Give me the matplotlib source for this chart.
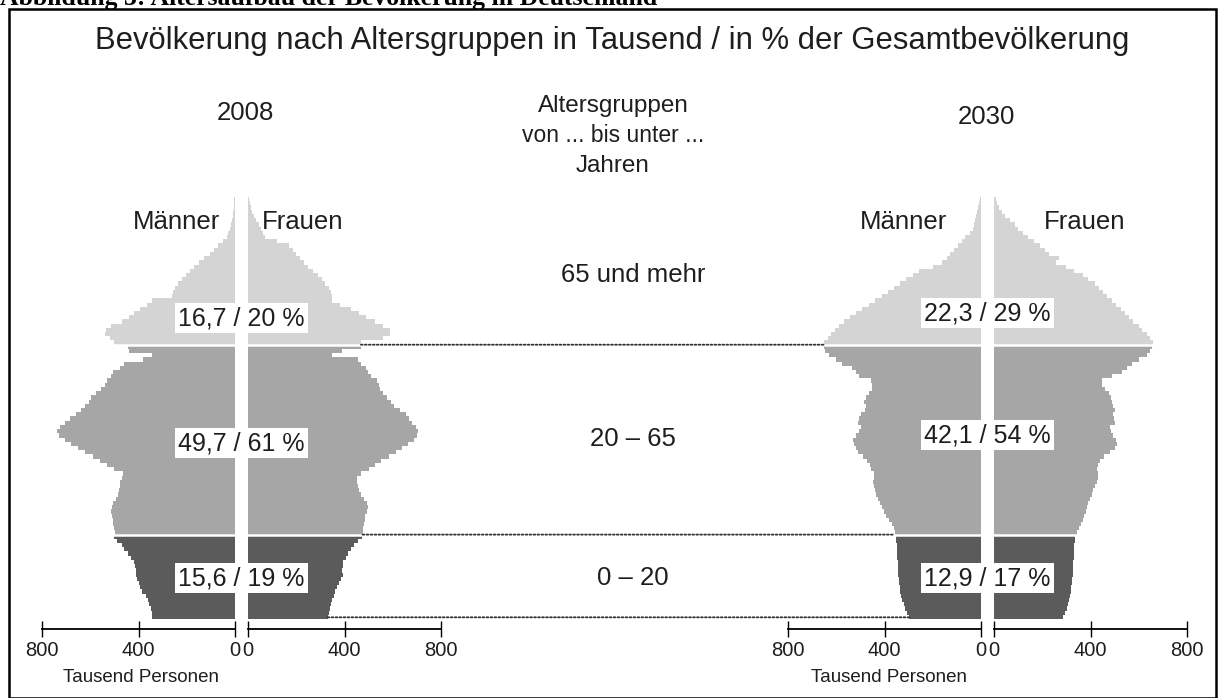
import numpy as np
import matplotlib.pyplot as plt
from matplotlib.patches import ConnectionPatch, Rectangle
from matplotlib.transforms import blended_transform_factory

plt.rcParams['font.family'] = ['Liberation Sans', 'DejaVu Sans']

# Data: thousands of persons per single year of age (0..99)
ages = np.arange(100)

men_2008 = [345, 345, 350, 355, 360, 370, 385, 395, 400, 405,
            410, 412, 415, 420, 430, 445, 460, 470, 490, 500,
            497, 500, 505, 505, 510, 512, 510, 505, 495, 485,
            480, 478, 475, 470, 465, 500, 530, 560, 590, 620,
            650, 680, 705, 730, 738, 725, 705, 685, 660, 640,
            620, 605, 595, 575, 555, 540, 530, 515, 505, 475,
            460, 380, 345, 440, 445, 500, 520, 540, 535, 515,
            470, 440, 420, 395, 365, 345, 260, 255, 250, 235,
            220, 205, 185, 170, 150, 130, 105, 85, 70, 50,
            35, 28, 20, 15, 12, 10, 8, 6, 4, 3]

women_2008 = [330, 334, 340, 344, 350, 355, 362, 368, 378, 385,
              392, 390, 392, 395, 405, 415, 425, 440, 458, 472,
              475, 478, 480, 485, 487, 492, 498, 495, 480, 470,
              462, 458, 452, 450, 470, 500, 525, 550, 585, 615,
              640, 665, 690, 702, 705, 695, 680, 668, 655, 630,
              605, 592, 578, 560, 548, 542, 535, 510, 498, 490,
              470, 458, 350, 390, 470, 468, 560, 589, 590, 560,
              527, 490, 460, 425, 380, 350, 348, 345, 335, 318,
              305, 290, 268, 250, 232, 215, 200, 185, 170, 120,
              70, 62, 55, 45, 32, 24, 18, 13, 9, 6]

men_2030 = [297, 305, 315, 320, 328, 332, 335, 337, 339, 340,
            342, 344, 345, 346, 347, 348, 349, 350, 352, 354,
            358, 362, 370, 380, 392, 402, 412, 420, 428, 435,
            440, 445, 449, 443, 442, 455, 462, 472, 490, 508,
            518, 528, 532, 520, 505, 497, 510, 505, 497, 480,
            478, 485, 478, 465, 450, 452, 458, 505, 520, 535,
            575, 600, 630, 645, 652, 650, 635, 622, 605, 590,
            567, 545, 520, 495, 465, 440, 410, 385, 362, 335,
            310, 283, 255, 200, 160, 140, 128, 112, 97, 80,
            65, 45, 35, 28, 24, 20, 16, 12, 8, 5]

women_2030 = [287, 295, 302, 308, 312, 315, 318, 320, 322, 324,
              326, 327, 328, 329, 330, 331, 332, 333, 335, 337,
              345, 352, 360, 367, 375, 382, 386, 391, 398, 405,
              412, 420, 426, 430, 432, 426, 430, 440, 458, 480,
              502, 508, 505, 495, 485, 481, 500, 496, 495, 502,
              495, 488, 483, 475, 460, 448, 446, 490, 530, 550,
              570, 600, 633, 648, 656, 661, 645, 633, 615, 600,
              578, 560, 545, 525, 505, 490, 470, 450, 435, 420,
              390, 370, 330, 300, 255, 270, 230, 211, 190, 165,
              140, 120, 100, 85, 65, 45, 35, 22, 14, 8]

group_bounds = [0, 20, 65, 100]
group_colors = ['#5b5b5b', '#a6a6a6', '#d4d4d4']
group_names = ['0 – 20', '20 – 65', '65 und mehr']
labels_2008 = ['15,6 / 19 %', '49,7 / 61 %', '16,7 / 20 %']
labels_2030 = ['12,9 / 17 %', '42,1 / 54 %', '22,3 / 29 %']

W, H = 1219, 698
fig = plt.figure(figsize=(W / 100, H / 100), dpi=100)
txt = '#1e1e1e'


def make_axes(x0, x1, men):
    ax = fig.add_axes([x0 / W, (H - 619) / H, (x1 - x0) / W, 422 / H])
    ax.set_ylim(0, 100)
    ax.set_xlim((800, 0) if men else (0, 800))
    for s in ['top', 'left', 'right']:
        ax.spines[s].set_visible(False)
    ax.spines['bottom'].set_position(('outward', 7))
    ax.spines['bottom'].set_linewidth(1.3)
    ax.set_yticks([])
    ax.set_xticks([0, 400, 800])
    ax.tick_params(axis='x', direction='inout', length=11, width=1.0,
                   pad=3, labelsize=14.5, labelcolor=txt)
    ax.patch.set_alpha(0)
    return ax


def draw(ax, vals):
    vals = np.asarray(vals)
    colors = []
    for a in ages:
        g = np.searchsorted(group_bounds, a, side='right') - 1
        colors.append(group_colors[g])
    ax.barh(ages, vals, height=1.0, align='edge', color=colors, linewidth=0)
    for b in group_bounds[1:3]:
        ax.axhline(b, color='white', lw=1.8)


ax_m08 = make_axes(42, 235, True)
ax_w08 = make_axes(248, 441, False)
ax_m30 = make_axes(788, 981, True)
ax_w30 = make_axes(994, 1187, False)

draw(ax_m08, men_2008)
draw(ax_w08, women_2008)
draw(ax_m30, men_2030)
draw(ax_w30, women_2030)

# dotted connectors at the group borders
for b, i in [(65, 65), (20, 20), (0.4, 0)]:
    con = ConnectionPatch(xyA=(women_2008[i], b), coordsA=ax_w08.transData,
                          xyB=(men_2030[i], b), coordsB=ax_m30.transData,
                          linestyle=(0, (1, 1.2)), lw=1.3, color='#333333')
    fig.add_artist(con)

# share labels with white boxes
for ax, cx, labs, ys in [(ax_m08, 241.5, labels_2008, [9.7, 41.7, 71.3]),
                         (ax_m30, 987.5, labels_2030, [9.7, 43.6, 72.5])]:
    tr = blended_transform_factory(fig.transFigure, ax.transData)
    for lab, y in zip(labs, ys):
        fig.text(cx / W, y, lab, transform=tr, ha='center', va='center',
                 fontsize=18, color=txt, zorder=5,
                 bbox=dict(facecolor='white', edgecolor='none',
                           boxstyle='square,pad=0.12'))

# group names in the middle
tr_mid = blended_transform_factory(fig.transFigure, ax_m08.transData)
for name, y in zip(group_names, [9.6, 42.6, 81.5]):
    fig.text(633 / W, y, name, transform=tr_mid, ha='center', va='center',
             fontsize=18.5, color=txt)


def ftext(x, y, s, **kw):
    kw.setdefault('fontsize', 18.5)
    kw.setdefault('color', txt)
    fig.text(x / W, 1 - y / H, s, ha='center', va='center', **kw)


ftext(612, 41, 'Bevölkerung nach Altersgruppen in Tausend / in % der Gesamtbevölkerung',
      fontsize=22.3)
ftext(245, 113, '2008')
ftext(986, 117, '2030')
ftext(613, 106, 'Altersgruppen', fontsize=17.5)
ftext(613, 135, 'von ... bis unter ...', fontsize=16.5)
ftext(613, 166, 'Jahren', fontsize=17.5)
ftext(177, 222, 'Männer')
ftext(303, 222, 'Frauen')
ftext(903, 222, 'Männer')
ftext(1085, 222, 'Frauen')
ftext(141, 678, 'Tausend Personen', fontsize=13.5)
ftext(889, 678, 'Tausend Personen', fontsize=13.5)

# caption line cut at the top and frame
fig.text(0.0, 1 - 5.5 / H, 'Abbildung 3: Altersaufbau der Bevölkerung in Deutschland',
         ha='left', va='baseline', fontsize=18.5, fontweight='bold',
         family=['Liberation Serif', 'DejaVu Serif'], color='black')
fig.add_artist(Rectangle((9 / W, 0), 1207 / W, (H - 9) / H, transform=fig.transFigure,
                         fill=False, edgecolor='black', lw=1.8))

fig.savefig('out.png', dpi=100)
